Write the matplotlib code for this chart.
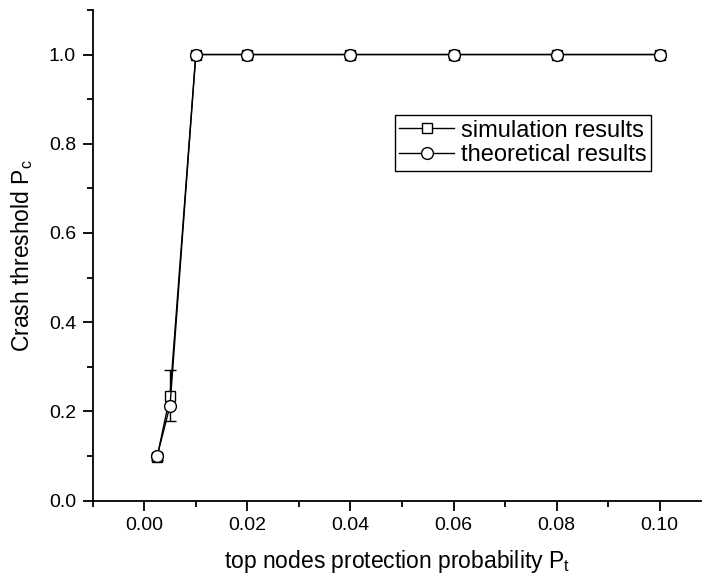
import numpy as np
import matplotlib.pyplot as plt
from matplotlib.ticker import MultipleLocator
from matplotlib.lines import Line2D

plt.rcParams['font.family'] = ['Liberation Sans', 'DejaVu Sans']

# данные
p_t = [0.0025, 0.005, 0.01, 0.02, 0.04, 0.06, 0.08, 0.10]
sim_pc = [0.098, 0.235, 1.0, 1.0, 1.0, 1.0, 1.0, 1.0]
sim_err = [0.006, 0.057, 0.0, 0.0, 0.0, 0.0, 0.0, 0.0]
theo_pc = [0.100, 0.213, 1.0, 1.0, 1.0, 1.0, 1.0, 1.0]

fig = plt.figure(figsize=(7.05, 5.83), dpi=100)
ax = fig.add_axes([0.1315, 0.1412, 0.8628, 0.8418])

ax.errorbar(p_t, sim_pc, yerr=sim_err, color='black', lw=1, marker='s', ms=7.5,
            mfc='white', mec='black', mew=1, capsize=4, elinewidth=1, zorder=2)
ax.plot(p_t, theo_pc, color='black', lw=1, marker='o', ms=8.5,
        mfc='white', mec='black', mew=1, zorder=3)

ax.set_xlim(-0.01, 0.108)
ax.set_ylim(0, 1.1)
ax.xaxis.set_minor_locator(MultipleLocator(0.01))
ax.yaxis.set_minor_locator(MultipleLocator(0.1))
ax.set_xticks([0.0, 0.02, 0.04, 0.06, 0.08, 0.10])
ax.set_xticklabels(['0.00', '0.02', '0.04', '0.06', '0.08', '0.10'])
ax.set_yticks([0.0, 0.2, 0.4, 0.6, 0.8, 1.0])
ax.set_yticklabels(['0.0', '0.2', '0.4', '0.6', '0.8', '1.0'])

for s in ['top', 'right']:
    ax.spines[s].set_visible(False)
for s in ['left', 'bottom']:
    ax.spines[s].set_linewidth(1.3)

ax.tick_params(which='major', direction='out', length=7, width=1.3,
               labelsize=14, pad=5)
ax.tick_params(which='minor', direction='out', length=4, width=1.3)

ax.set_xlabel('top nodes protection probability P$_\\mathregular{t}$', fontsize=16.5, labelpad=10)
ax.set_ylabel('Crash threshold P$_\\mathregular{c}$', fontsize=16.5, labelpad=10)

handles = [Line2D([], [], color='black', lw=1, marker='s', ms=7.5, mfc='white', mec='black'),
           Line2D([], [], color='black', lw=1, marker='o', ms=8.5, mfc='white', mec='black')]
leg = ax.legend(handles, ['simulation results', 'theoretical results'],
                loc='upper left', bbox_to_anchor=(0.4965, 0.786), fontsize=17,
                frameon=True, fancybox=False, edgecolor='black', framealpha=1,
                handlelength=2.3, handletextpad=0.3, borderpad=0.2,
                labelspacing=0.1, borderaxespad=0)
leg.get_frame().set_linewidth(1)

fig.savefig('out.png', dpi=100)
